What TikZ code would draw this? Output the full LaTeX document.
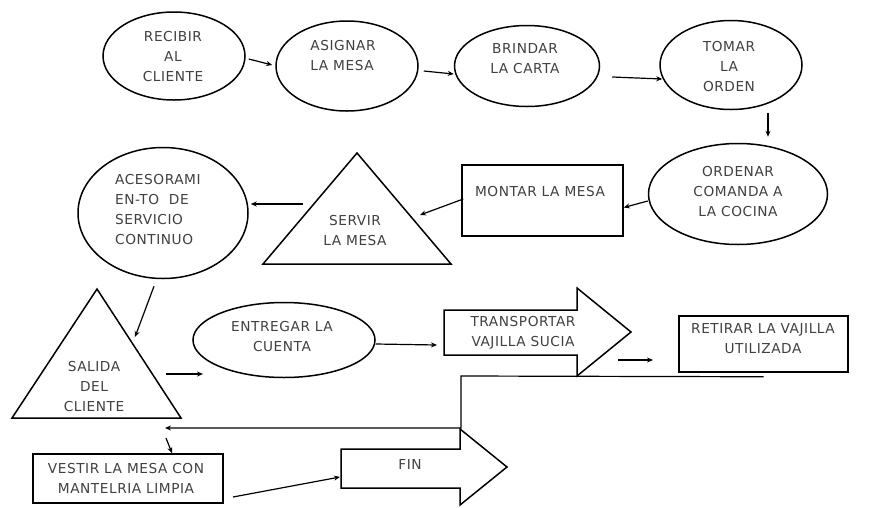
\documentclass[tikz,border=0pt]{standalone}
\usepackage{fontspec}
\setmainfont{DejaVu Sans}[LetterSpace=4]
\usetikzlibrary{shapes.geometric,arrows.meta}

\begin{document}
\begin{tikzpicture}[x=1pt,y=-1pt,
  forma/.style={draw, line width=1.5pt, inner sep=0pt},
  elip/.style={forma, ellipse},
  caja/.style={forma, rectangle},
  txt/.style={text=black!75, font=\fontsize{13.7}{20}\selectfont, align=center, inner sep=0pt},
  flecha/.style={line width=1.2pt, -{Stealth[length=6pt,width=5pt]}}]

\useasboundingbox (0,0) rectangle (895,507);

% Elipses
\node[elip, minimum width=142pt, minimum height=88pt] (recibir) at (174,56) {};
\node[elip, minimum width=142pt, minimum height=90pt] (asignar) at (347,66) {};
\node[elip, minimum width=145pt, minimum height=81pt] (brindar) at (527,66) {};
\node[elip, minimum width=142pt, minimum height=89pt] (tomar) at (731,65) {};
\node[elip, minimum width=179pt, minimum height=101pt] (ordenar) at (738,194) {};
\node[elip, minimum width=170pt, minimum height=131pt] (acesor) at (163,213) {};
\node[elip, minimum width=182pt, minimum height=75pt] (entregar) at (284,340) {};

% Cajas
\node[caja, minimum width=161pt, minimum height=71pt] (montar) at (542.5,200.5) {};
\node[caja, minimum width=169pt, minimum height=56pt] (retirar) at (763.5,344) {};
\node[caja, minimum width=190pt, minimum height=49pt] (vestir) at (128,478.5) {};

% Triangulos y flechas de bloque
\draw[line width=1.5pt] (357,153) -- (451,264) -- (263,264) -- cycle;
\draw[line width=1.5pt] (97,289) -- (181,418) -- (12,418) -- cycle;
\draw[line width=1.5pt] (444,310) -- (577,310) -- (577,288) -- (631,332) -- (577,376) -- (577,355) -- (444,355) -- cycle;
\draw[line width=1.5pt] (341,449) -- (460,449) -- (460,429) -- (507,467) -- (460,505) -- (460,488) -- (341,488) -- cycle;

% Textos
\node[txt] (recibirT) at (173,57) {RECIBIR\\AL\\CLIENTE};
\node[txt, align=left] (asignarT) at (343,56) {ASIGNAR\\LA MESA};
\node[txt] (brindarT) at (525,59) {BRINDAR\\LA CARTA};
\node[txt] (tomarT) at (729,67) {TOMAR\\LA\\ORDEN};
\node[txt] (ordenarT) at (738,192) {ORDENAR\\COMANDA A\\LA COCINA};
\node[txt] (montarT) at (540,192) {MONTAR LA MESA};
\node[txt] (servirT) at (355,231) {SERVIR\\LA MESA};
\node[txt, align=left, anchor=west] (acesorT) at (115,210) {ACESORAMI\\EN-TO\ \ DE\\SERVICIO\\CONTINUO};
\node[txt] (salidaT) at (94,387) {SALIDA\\DEL\\CLIENTE};
\node[txt] (entregarT) at (282,337) {ENTREGAR LA\\CUENTA};
\node[txt] (transpT) at (523,333) {TRANSPORTAR\\VAJILLA SUCIA};
\node[txt] (retirarT) at (763,339) {RETIRAR LA VAJILLA\\UTILIZADA};
\node[txt] (vestirT) at (126,478) {VESTIR LA MESA CON\\MANTELRIA LIMPIA};
\node[txt] (finT) at (410,464) {FIN};

% Puntos libres de los conectores
\coordinate (servirR) at (420,215);
\coordinate (servirL) at (303,204);
\coordinate (salidaTop) at (135,337);
\coordinate (salidaR) at (166,374);
\coordinate (entregarA) at (203,374);
\coordinate (transpIzq) at (437,345);
\coordinate (transpDer) at (618,360);
\coordinate (retirarIzq) at (653,360);
\coordinate (vueltaA) at (461,376);
\coordinate (vueltaB) at (461,428);
\coordinate (vueltaC) at (165,428);
\coordinate (bajada) at (166,438);
\coordinate (vestirDer) at (233,497);
\coordinate (finIzq) at (340,477);

% Conectores
\draw[flecha] ([shift={(3pt,-3pt)}]recibir.east) -- ([shift={(-3pt,1pt)}]asignar.west);
\draw[flecha] ([shift={(5pt,-5pt)}]asignar.east) -- ([yshift=-8pt]brindar.west);
\draw[flecha] ([shift={(12pt,-11pt)}]brindar.east) -- ([shift={(3pt,-14pt)}]tomar.west);
\draw[flecha] ([shift={(37pt,-3pt)}]tomar.south) -- ([shift={(30pt,6pt)}]ordenar.north);
\draw[flecha] ([yshift=-7pt]ordenar.west) -- ([yshift=-7pt]montar.east);
\draw[flecha] ([shift={(2pt,1.5pt)}]montar.west) -- (servirR);
\draw[flecha] (servirL) -- ([shift={(2pt,9pt)}]acesor.east);
\draw[flecha] ([shift={(-9pt,-7pt)}]acesor.south) -- (salidaTop);
\draw[flecha] (salidaR) -- (entregarA);
\draw[flecha] ([yshift=-4pt]entregar.east) -- (transpIzq);
\draw[flecha] (transpDer) -- (retirarIzq);
\draw[flecha] ([yshift=-4pt]retirar.south) -- (vueltaA) -- (vueltaB) -- (vueltaC);
\draw[flecha] (bajada) -- ([xshift=44pt]vestir.north);
\draw[flecha] (vestirDer) -- (finIzq);

\end{tikzpicture}
\end{document}
